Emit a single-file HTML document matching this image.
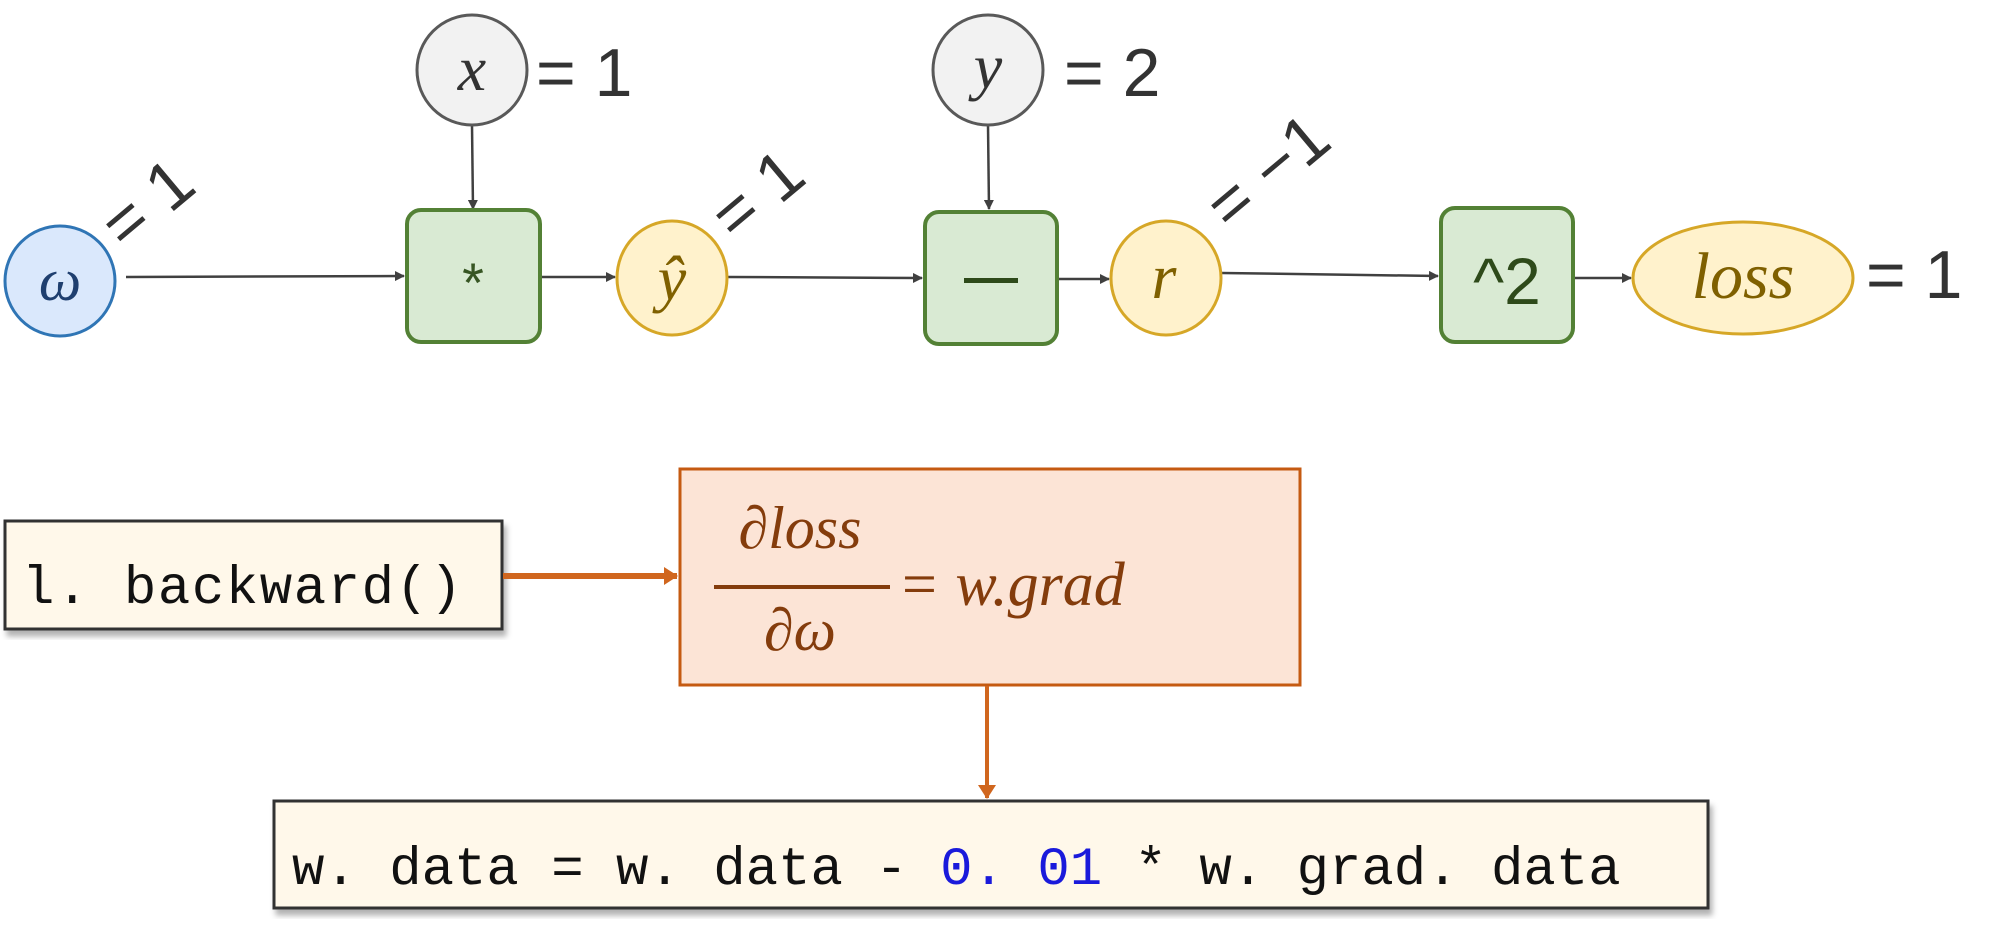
<!DOCTYPE html>
<html><head><meta charset="utf-8"><style>
body{margin:0;background:#fff;width:2002px;height:928px;overflow:hidden}
</style></head><body>
<svg width="2002" height="928" viewBox="0 0 2002 928" xmlns="http://www.w3.org/2000/svg">
<defs>
<marker id="a" markerWidth="10" markerHeight="10" refX="9" refY="5" orient="auto" markerUnits="userSpaceOnUse"><path d="M0,0 L10,5 L0,10 z" fill="#404040"/></marker>
<marker id="o" markerWidth="14" markerHeight="18" refX="13" refY="9" orient="auto" markerUnits="userSpaceOnUse"><path d="M0,0 L14,9 L0,18 z" fill="#d0661e"/></marker>
<filter id="sh"><feDropShadow dx="3" dy="6" stdDeviation="3" flood-color="#000" flood-opacity="0.3"/></filter>
</defs>
<g stroke="#404040" stroke-width="2.5" fill="none">
<line x1="126" y1="277" x2="404" y2="276" marker-end="url(#a)"/>
<line x1="472" y1="125" x2="473" y2="209" marker-end="url(#a)"/>
<line x1="541" y1="277" x2="615" y2="277" marker-end="url(#a)"/>
<line x1="728" y1="277" x2="922" y2="278" marker-end="url(#a)"/>
<line x1="988" y1="125" x2="989" y2="209" marker-end="url(#a)"/>
<line x1="1058" y1="279" x2="1109" y2="279" marker-end="url(#a)"/>
<line x1="1222" y1="273" x2="1438" y2="276" marker-end="url(#a)"/>
<line x1="1574" y1="278" x2="1631" y2="278" marker-end="url(#a)"/>
</g>
<g font-family="Liberation Serif, serif" font-style="italic">
<circle cx="60" cy="281" r="55" fill="#dae8fc" stroke="#2f75b5" stroke-width="3"/>
<text x="60" y="300" font-size="60" text-anchor="middle" fill="#1f3f6f">ω</text>
<circle cx="472" cy="70" r="55" fill="#f2f2f2" stroke="#595959" stroke-width="3"/>
<text x="472" y="90" font-size="64" text-anchor="middle" fill="#333">x</text>
<circle cx="988" cy="70" r="55" fill="#f2f2f2" stroke="#595959" stroke-width="3"/>
<text x="988" y="88" font-size="64" text-anchor="middle" fill="#333">y</text>
<ellipse cx="672" cy="278" rx="55" ry="57" fill="#fff2cc" stroke="#d6a727" stroke-width="3"/>
<text x="672" y="300" font-size="64" text-anchor="middle" fill="#7f6000">ŷ</text>
<ellipse cx="1166" cy="278" rx="55" ry="57" fill="#fff2cc" stroke="#d6a727" stroke-width="3"/>
<text x="1164" y="298" font-size="64" text-anchor="middle" fill="#7f6000">r</text>
<ellipse cx="1743" cy="278" rx="110" ry="56" fill="#fff2cc" stroke="#d6a727" stroke-width="3"/>
<text x="1743" y="298" font-size="66" text-anchor="middle" fill="#7f6000">loss</text>
</g>
<g fill="#d9ead3" stroke="#538135" stroke-width="4">
<rect x="407" y="210" width="133" height="132" rx="14"/>
<rect x="925" y="212" width="132" height="132" rx="14"/>
<rect x="1441" y="208" width="132" height="134" rx="14"/>
</g>
<g font-family="Liberation Sans, sans-serif" fill="#333">
<text x="473" y="302" font-size="56" text-anchor="middle" fill="#375623">*</text>
<rect x="964" y="278" width="54" height="5" fill="#2e4a1a"/>
<text x="1507" y="304" font-size="66" text-anchor="middle" fill="#2e4a1a">^2</text>
<text x="536" y="96" font-size="68">= 1</text>
<text x="1064" y="96" font-size="68">= 2</text>
<text x="1866" y="298" font-size="68">= 1</text>
<text font-size="68" transform="translate(125,252) rotate(-40)">= 1</text>
<text font-size="68" transform="translate(735,243) rotate(-40)">= 1</text>
<text font-size="68" transform="translate(1230,233) rotate(-40)">= −1</text>
</g>
<rect x="5" y="521" width="497" height="108" fill="#fff8ea" stroke="#333" stroke-width="3" filter="url(#sh)"/>
<text x="22" y="603" font-family="Liberation Mono, monospace" font-size="54" fill="#111" textLength="440">l. backward()</text>
<line x1="503" y1="576" x2="677" y2="576" stroke="#d0661e" stroke-width="6" marker-end="url(#o)"/>
<rect x="680" y="469" width="620" height="216" fill="#fce4d6" stroke="#c55a11" stroke-width="3"/>
<g font-family="Liberation Serif, serif" font-style="italic" fill="#843c0c">
<text x="800" y="548" font-size="60" text-anchor="middle">∂loss</text>
<rect x="714" y="585" width="176" height="4" fill="#843c0c"/>
<text x="800" y="650" font-size="60" text-anchor="middle">∂ω</text>
<text x="898" y="605" font-size="62">= w.grad</text>
</g>
<line x1="987" y1="686" x2="987" y2="798" stroke="#d0661e" stroke-width="4" marker-end="url(#o)"/>
<rect x="274" y="801" width="1434" height="107" fill="#fff8ea" stroke="#333" stroke-width="3" filter="url(#sh)"/>
<text x="292" y="884" font-family="Liberation Mono, monospace" font-size="54" fill="#111" xml:space="preserve">w. data = w. data - <tspan fill="#1a1adb">0. 01</tspan> * w. grad. data</text>
</svg>
</body></html>
